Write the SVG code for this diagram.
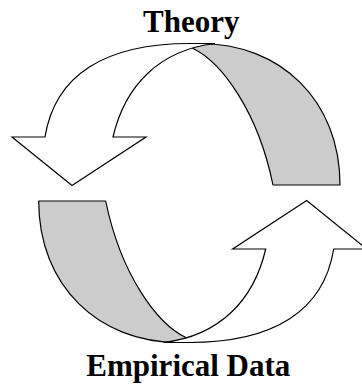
<svg xmlns="http://www.w3.org/2000/svg" width="362" height="385" viewBox="0 0 362 385">
<style>
.g{fill:#cccccc;stroke:#000;stroke-width:1.2;stroke-linejoin:round}
.w{fill:#ffffff;stroke:#000;stroke-width:1.2;stroke-linejoin:miter}
.t{font-family:"Liberation Serif","Times New Roman",serif;font-weight:bold;font-size:31px;fill:#000;text-anchor:middle}
</style>
<defs>
<g id="arrow">
<path class="g" d="M192,48 C222,62 258,112 273,185 L340,185 C340,100 280,43.5 200,43.5 Z"/>
<path class="w" d="M45,137 C55,75 105,43.5 190,43.5 L215,43.5 C160,50 125,85 113,137 L146,137 L72,185.5 L12,137 Z"/>
</g>
</defs>
<rect width="362" height="385" fill="#fff"/>
<g id="connectors">
<use id="top-arrow" href="#arrow"/>
<use id="bottom-arrow" href="#arrow" transform="rotate(180 189.35 193)"/>
</g>
<g id="theory"><text class="t" x="191.3" y="32.3">Theory</text></g>
<g id="empirical-data"><text class="t" x="188.3" y="376">Empirical Data</text></g>
</svg>
